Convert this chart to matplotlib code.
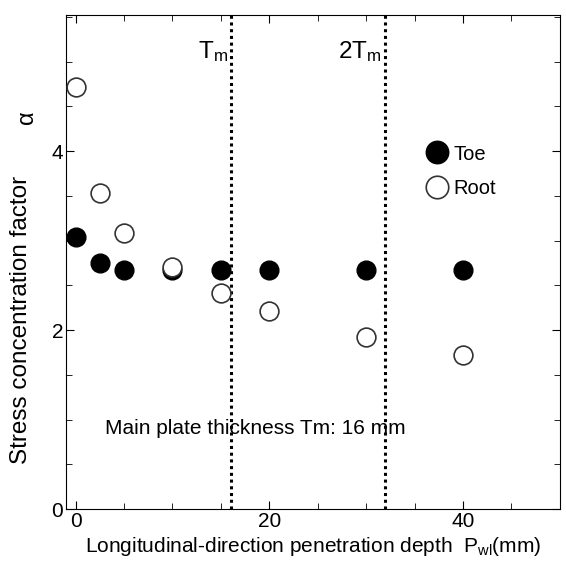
import matplotlib
matplotlib.use('Agg')
import matplotlib.pyplot as plt
from matplotlib.ticker import MultipleLocator

plt.rcParams['font.family'] = ['Liberation Sans', 'DejaVu Sans']
plt.rcParams['mathtext.fontset'] = 'custom'
plt.rcParams['mathtext.rm'] = 'Liberation Sans'
plt.rcParams['mathtext.it'] = 'Liberation Sans'

# 데이터
depth = [0, 2.5, 5, 10, 15, 20, 30, 40]
toe = [3.04, 2.75, 2.67, 2.67, 2.67, 2.67, 2.67, 2.67]
root = [4.71, 3.53, 3.08, 2.70, 2.41, 2.21, 1.92, 1.72]
tm = 16

fig = plt.figure(figsize=(5.66, 5.74), dpi=100)
ax = fig.add_axes([0.1166, 0.1132, 0.8724, 0.8607])

ax.plot(depth, toe, 'o', color='black', markersize=13.5, label='Toe', zorder=3)
ax.plot(depth, root, 'o', markerfacecolor='white', markeredgecolor='#333333',
        markeredgewidth=1.2, markersize=13.5, label='Root', zorder=4)

for xv in [tm, 2 * tm]:
    ax.axvline(xv, color='black', linestyle=(0, (1, 1.2)), linewidth=2.2, zorder=2)

ax.text(15.7, 5.04, '$\\mathregular{T_m}$', ha='right', va='baseline', fontsize=17.5)
ax.text(31.55, 5.04, '$\\mathregular{2T_m}$', ha='right', va='baseline', fontsize=17.5)
ax.text(3.0, 0.905, 'Main plate thickness Tm: 16 mm', ha='left', va='center', fontsize=15)

ax.set_xlim(-1, 50)
ax.set_ylim(0, 5.52)
ax.xaxis.set_major_locator(MultipleLocator(20))
ax.xaxis.set_minor_locator(MultipleLocator(5))
ax.yaxis.set_major_locator(MultipleLocator(2))
ax.yaxis.set_minor_locator(MultipleLocator(0.5))
ax.tick_params(which='both', direction='in', top=True, right=True, labelsize=15, pad=2)
ax.tick_params(which='major', length=6)
ax.tick_params(which='minor', length=4)

ax.set_xlabel('Longitudinal-direction penetration depth  $\\mathregular{P_{wl}}$(mm)',
              fontsize=15, labelpad=3)
fig.text(0.037, 0.443, 'Stress concentration factor', rotation=90,
         ha='center', va='center', fontsize=17.5)
fig.text(0.048, 0.796, 'α', rotation=90, ha='center', va='center', fontsize=17)

ax.legend(loc='center left', bbox_to_anchor=(0.707, 0.684), frameon=False,
          fontsize=14.5, handletextpad=0.2, labelspacing=0.75, borderpad=0,
          markerscale=1.2, handlelength=1.2)

plt.savefig('out.png', dpi=100)
plt.close()
